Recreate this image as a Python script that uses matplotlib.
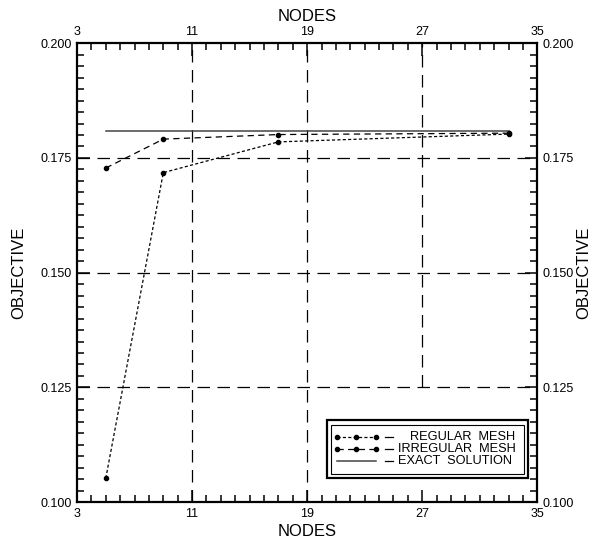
import matplotlib
matplotlib.use("Agg")
import matplotlib.pyplot as plt
from matplotlib.lines import Line2D
from matplotlib.patches import Rectangle
from matplotlib.ticker import MultipleLocator, FormatStrFormatter

plt.rcParams['font.family'] = ['Liberation Sans', 'DejaVu Sans']

# Mesh convergence data
nodes = [5, 9, 17, 33]
regular_mesh = [0.1052, 0.1718, 0.1785, 0.1802]
irregular_mesh = [0.1728, 0.1791, 0.1801, 0.1804]
exact_nodes = [5, 33]
exact_value = 0.1809

x_ticks = [3, 11, 19, 27, 35]
y_ticks = [0.100, 0.125, 0.150, 0.175, 0.200]

fig = plt.figure(figsize=(5.97, 5.47), dpi=100)
ax = fig.add_axes([0.129, 0.082, 0.771, 0.839])
ax.set_xlim(3, 35)
ax.set_ylim(0.100, 0.200)

# Dashed grid at the interior major ticks
grid_kw = dict(color='black', lw=0.9, dashes=(10, 6), zorder=1)
for xv in x_ticks[1:-1]:
    if xv == 27:
        ax.plot([xv, xv], [0.125, 0.200], **grid_kw)
    else:
        ax.plot([xv, xv], [0.100, 0.200], **grid_kw)
for yv in y_ticks[1:-1]:
    ax.plot([3, 35], [yv, yv], **grid_kw)

ax.plot(nodes, regular_mesh, color='black', lw=0.9, dashes=(2.5, 1.8),
        marker='o', ms=3, zorder=3)
ax.plot(nodes, irregular_mesh, color='black', lw=0.9, dashes=(5, 3.5),
        marker='o', ms=3, zorder=3)
ax.plot(exact_nodes, [exact_value, exact_value], color='#444444', lw=1.1,
        zorder=2)

ax.set_xticks(x_ticks)
ax.set_yticks(y_ticks)
ax.xaxis.set_minor_locator(MultipleLocator(1))
ax.yaxis.set_minor_locator(MultipleLocator(0.0025))
ax.yaxis.set_major_formatter(FormatStrFormatter('%.3f'))
ax.tick_params(which='both', direction='in', top=True, right=True,
               labeltop=True, labelright=True, labelsize=9, width=1.1,
               color='black')
ax.tick_params(which='major', length=9, pad=4)
ax.tick_params(which='minor', length=5)
for s in ax.spines.values():
    s.set_linewidth(1.6)

ax.set_xlabel('NODES', fontsize=12, labelpad=3)
ax.set_ylabel('OBJECTIVE', fontsize=12, labelpad=10)
ax.text(0.5, 1.042, 'NODES', transform=ax.transAxes, ha='center',
        va='bottom', fontsize=12)
ax.text(1.10, 0.5, 'OBJECTIVE', transform=ax.transAxes, ha='center',
        va='center', rotation=90, fontsize=12)

# Key box with double border
bx0, by0, bw, bh = 0.543, 0.052, 0.437, 0.127
ax.add_patch(Rectangle((bx0, by0), bw, bh, transform=ax.transAxes,
                       fill=True, facecolor='white', edgecolor='black',
                       lw=1.6, zorder=5))
ax.add_patch(Rectangle((bx0 + 0.009, by0 + 0.01), bw - 0.018, bh - 0.02,
                       transform=ax.transAxes, fill=False,
                       edgecolor='black', lw=0.8, zorder=6))
entries = [
    ('REGULAR  MESH', dict(color='black', lw=0.9, dashes=(2.5, 1.8),
                            marker='o', ms=3, markevery=[0, 2, 4])),
    ('IRREGULAR  MESH', dict(color='black', lw=0.9, dashes=(5, 3.5),
                              marker='o', ms=3, markevery=[0, 2, 4])),
    ('EXACT  SOLUTION', dict(color='#444444', lw=1.1)),
]
label_x = [0.724, 0.698, 0.698]
row_y = [0.1416, 0.1155, 0.0893]
for (label, style), lx, yy in zip(entries, label_x, row_y):
    xs = [0.565 + k * 0.021 for k in range(5)]
    ax.add_line(Line2D(xs, [yy] * 5, transform=ax.transAxes, zorder=7,
                       **style))
    ax.add_line(Line2D([0.670, 0.687], [yy, yy], transform=ax.transAxes,
                       color='black', lw=0.9, zorder=7))
    ax.text(lx, yy, label, transform=ax.transAxes, ha='left',
            va='center', fontsize=9.2, zorder=7)

fig.savefig('out.png', dpi=100)
